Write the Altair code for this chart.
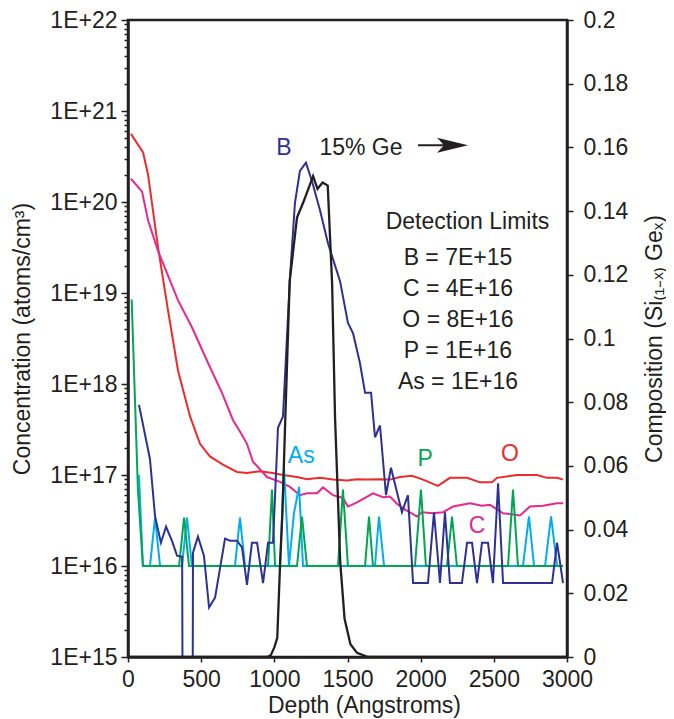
import altair as alt
import pandas as pd

# ---------------- data ----------------
depth_O = [20, 103, 137, 205, 273, 342, 424, 492, 560, 649, 745, 813, 902, 990, 1059, 1155, 1223, 1312, 1401, 1497,
           1565, 1633, 1722, 1790, 1859, 1941, 2016, 2118, 2200, 2317, 2405, 2487, 2522, 2658, 2795, 2863, 2932, 2973]
conc_O = [5.6e20, 3.5e20, 2.0e20, 3.2e19, 6.5e18, 1.4e18, 4.4e17, 2.2e17, 1.6e17, 1.3e17,
          1.08e17, 1.05e17, 1.1e17, 1.05e17, 1.0e17, 9.5e16, 9.0e16, 9.3e16, 8.9e16, 8.7e16,
          9.0e16, 8.9e16, 9.0e16, 8.9e16, 9.5e16, 9.8e16, 8.9e16, 7.6e16, 9.3e16, 9.3e16,
          8.3e16, 8.3e16, 9.3e16, 1.0e17, 1.0e17, 9.3e16, 9.3e16, 8.9e16]

depth_C = [20, 96, 137, 205, 342, 437, 547, 642, 718, 765, 813, 854, 950, 1039, 1107, 1175, 1223, 1292, 1333, 1401,
           1469, 1503, 1565, 1674, 1743, 1790, 1840, 1880, 1975, 2009, 2084, 2153, 2221, 2337, 2419, 2474, 2563, 2679,
           2747, 2836, 2932, 2973]
conc_C = [1.8e20, 1.3e20, 6.3e19, 2.9e19, 8.3e18, 4.2e18, 1.7e18, 8.0e17, 4.0e17, 3.0e17,
          2.2e17, 1.4e17, 9.5e16, 8.4e16, 7.4e16, 6.0e16, 6.3e16, 6.3e16, 7.3e16, 6.0e16,
          5.6e16, 4.5e16, 5.0e16, 6.3e16, 5.7e16, 5.8e16, 4.8e16, 4.3e16, 3.5e16, 3.9e16,
          3.8e16, 3.9e16, 4.5e16, 4.9e16, 4.6e16, 4.7e16, 3.8e16, 3.6e16, 4.5e16, 4.6e16,
          4.9e16, 4.9e16]

depth_B = [75, 150, 185, 225, 260, 300, 335, 370, 376, 440, 444, 478, 519, 554, 595, 663, 697, 745, 779, 813,
           847, 882, 923, 957, 991, 1025, 1059, 1107, 1141, 1175, 1216, 1257, 1312, 1367, 1449, 1503, 1538, 1585,
           1620, 1661, 1688, 1722, 1763, 1797, 1872, 1913, 1948, 2050, 2091, 2132, 2166, 2200, 2282, 2317, 2351,
           2385, 2419, 2460, 2494, 2529, 2563, 2898, 2932, 2973]
conc_B = [5.9e17, 1.5e17, 3.5e16, 1.8e16, 2.7e16, 1.9e16, 1.3e16, 1.26e16, 1e13, 1e13,
          1.4e16, 2.1e16, 1.3e16, 3.5e15, 4.5e15, 2.0e16, 1.9e16, 1.9e16, 1.6e16, 6.2e15,
          1.8e16, 1.8e16, 6.5e15, 1.8e16, 1.8e16, 3.3e17, 4.4e17, 1.5e19, 9.8e19, 2.2e20,
          2.7e20, 1.7e20, 8.1e19, 3.5e19, 1.35e19, 4.7e18, 3.6e18, 1.7e18, 8e17, 8e17,
          2.6e17, 3.5e17, 6.0e16, 1.2e17, 3.9e16, 6.0e16, 6.5e15, 6.5e15, 3.9e16, 6.5e15,
          3.9e16, 6.5e15, 6.5e15, 1.8e16, 1.8e16, 6.5e15, 1.8e16, 1.8e16, 6.5e15, 8.1e16,
          6.5e15, 6.5e15, 1.8e16, 6.5e15]

depth_P = [25, 68, 102, 349, 383, 417, 957, 984, 1005, 1155, 1189, 1223, 1435, 1469, 1503, 1620, 1647, 1674,
           1961, 2002, 2036, 2180, 2214, 2248, 2597, 2631, 2665, 2973]
conc_P = [8.5e18, 6.9e16, 1e16, 1e16, 3.4e16, 1e16, 1e16, 6.9e16, 1e16, 1e16,
          3.5e16, 1e16, 1e16, 6.9e16, 1e16, 1e16, 3.5e16, 1e16, 1e16, 6.9e16,
          1e16, 1e16, 3.5e16, 1e16, 1e16, 6.9e16, 1e16, 1e16]

depth_As = [75, 102, 150, 185, 219, 369, 403, 437, 731, 765, 800, 1039, 1066, 1100, 1134, 1169, 1196, 1688, 1715,
            1750, 2699, 2740, 2775, 2850, 2891, 2932, 2973]
conc_As = [1e17, 1e16, 1e16, 3.4e16, 1e16, 1e16, 3.4e16, 1e16, 1e16, 3.4e16,
           1e16, 1e16, 1.2e17, 1e16, 3.8e16, 7.4e16, 1e16, 1e16, 3.5e16, 1e16,
           1e16, 3.5e16, 1e16, 1e16, 3.5e16, 1e16, 1e16]

depth_Ge = [0, 950, 975, 1000, 1020, 1040, 1055, 1075, 1105, 1155, 1200, 1265, 1295, 1330, 1365, 1395, 1415,
            1450, 1480, 1520, 1565, 1640, 3000]
comp_Ge = [0, 0, 0.0005, 0.003, 0.006, 0.03, 0.045, 0.075, 0.118, 0.138, 0.143, 0.151, 0.147, 0.149, 0.148,
           0.117, 0.075, 0.03, 0.012, 0.004, 0.0013, 0, 0]

label_text = ["B", "15% Ge", "As", "P", "O", "C", "Detection Limits", "B = 7E+15", "C = 4E+16",
              "O = 8E+16", "P = 1E+16", "As = 1E+16"]
label_depth = [1066, 1592, 1184, 2030, 2610, 2385, 2320, 2255, 2255, 2255, 2255, 2255]
label_conc = [3.9e20, 3.9e20, 1.6e17, 1.5e17, 1.7e17, 2.75e16, 6.0e19, 2.45e19, 1.12e19, 5.0e18, 2.3e18, 1.05e18]
label_color = ["#2E3192", "#231F20", "#00AEEF", "#00A651", "#EE2B2B", "#E8288F",
               "#231F20", "#231F20", "#231F20", "#231F20", "#231F20", "#231F20"]

arrow_depth = [1982]
arrow_depth2 = [2235]
arrow_head_depth = [2218]
arrow_conc = [4.2e20]

x_ticks = [0, 500, 1000, 1500, 2000, 2500, 3000]
y_major = [1e15, 1e16, 1e17, 1e18, 1e19, 1e20, 1e21, 1e22]
y_ticks = y_major + [k * 10.0 ** n for n in range(15, 22) for k in range(2, 10)]
r_ticks = [round(0.02 * i, 2) for i in range(11)]

INK = "#231F20"
FONT = "Liberation Sans"

# ---------------- encodings ----------------
is_decade = "abs(log(datum.value)/LN10 - round(log(datum.value)/LN10)) < 0.001"

X = alt.X("depth:Q",
          scale=alt.Scale(domain=[0, 3000], nice=False, zero=False),
          axis=alt.Axis(values=x_ticks, format="d", title="Depth (Angstroms)",
                        tickSize=5, labelPadding=6, labelFlush=False,
                        titleX=236, titleY=55, titleBaseline="alphabetic", titleAlign="center"))

Yc = alt.Y("conc:Q",
           scale=alt.Scale(type="log", domain=[1e15, 1e22], nice=False),
           axis=alt.Axis(values=y_ticks, labelOverlap=False, labelFlush=False,
                         labelExpr=f"({is_decade}) ? '1E+' + round(log(datum.value)/LN10) : ''",
                         tickSize={"condition": {"test": is_decade, "value": 7}, "value": 4},
                         labelPadding=4,
                         title="Concentration (atoms/cm³)",
                         titleAngle=270, titleX=-106, titleY=318.5,
                         titleAlign="center", titleBaseline="middle"))

Yg = alt.Y("comp:Q",
           scale=alt.Scale(domain=[0, 0.2], nice=False, zero=True),
           axis=alt.Axis(orient="right", values=r_ticks, format="~g", labelFlush=False,
                         tickSize=6, labelPadding=10, labelOverlap=False,
                         title="Composition (Si₍₁₋ₓ₎ Geₓ)",
                         titleAngle=270, titleX=87, titleY=318.5,
                         titleAlign="center", titleBaseline="middle"))


def series(depths, values, color, width=2.0):
    df = pd.DataFrame({"depth": depths, "conc": values, "i": range(len(depths))})
    return alt.Chart(df).mark_line(color=color, strokeWidth=width, clip=True).encode(
        x=X, y=Yc, order="i:Q")


lay_O = series(depth_O, conc_O, "#EE2B2B")
lay_C = series(depth_C, conc_C, "#E8288F")
lay_As = series(depth_As, conc_As, "#00AEEF")
lay_P = series(depth_P, conc_P, "#00A651")
lay_B = series(depth_B, conc_B, "#2E3192")

labels_df = pd.DataFrame({"depth": label_depth, "conc": label_conc, "label": label_text, "col": label_color})
lay_text = alt.Chart(labels_df).mark_text(font=FONT, fontSize=23, align="center", baseline="middle").encode(
    x=X, y=Yc, text="label:N", color=alt.Color("col:N", scale=None))

arrow_df = pd.DataFrame({"depth": arrow_depth, "depth2": arrow_depth2, "conc": arrow_conc})
lay_shaft = alt.Chart(arrow_df).mark_rule(color=INK, strokeWidth=2).encode(x=X, x2="depth2:Q", y=Yc)
head_df = pd.DataFrame({"depth": arrow_head_depth, "conc": arrow_conc})
lay_head = alt.Chart(head_df).mark_point(
    shape="M-1,-0.48L1,0L-1,0.48L-0.55,0Z", filled=True, size=961, color=INK, opacity=1, strokeWidth=0
).encode(x=X, y=Yc)

left = alt.layer(lay_O, lay_C, lay_As, lay_P, lay_B, lay_text, lay_shaft, lay_head)

ge_df = pd.DataFrame({"depth": depth_Ge, "comp": comp_Ge, "i": range(len(depth_Ge))})
lay_Ge = alt.Chart(ge_df).mark_line(color=INK, strokeWidth=2.3, clip=True).encode(x=X, y=Yg, order="i:Q")

chart = alt.layer(left, lay_Ge).resolve_scale(y="independent").properties(
    width=439, height=637,
    autosize=alt.AutoSizeParams(type="none"),
    padding={"left": 120, "top": 12, "right": 99, "bottom": 62},
).configure_view(
    stroke=INK, strokeWidth=2.5
).configure_axis(
    labelFont=FONT, labelFontSize=23, labelColor=INK,
    titleFont=FONT, titleFontSize=23, titleFontWeight="normal", titleColor=INK,
    domainColor=INK, domainWidth=2.5, tickColor=INK, tickWidth=1.5, grid=False
)

chart.save("out.html", embed_options={"renderer": "svg", "actions": False})
